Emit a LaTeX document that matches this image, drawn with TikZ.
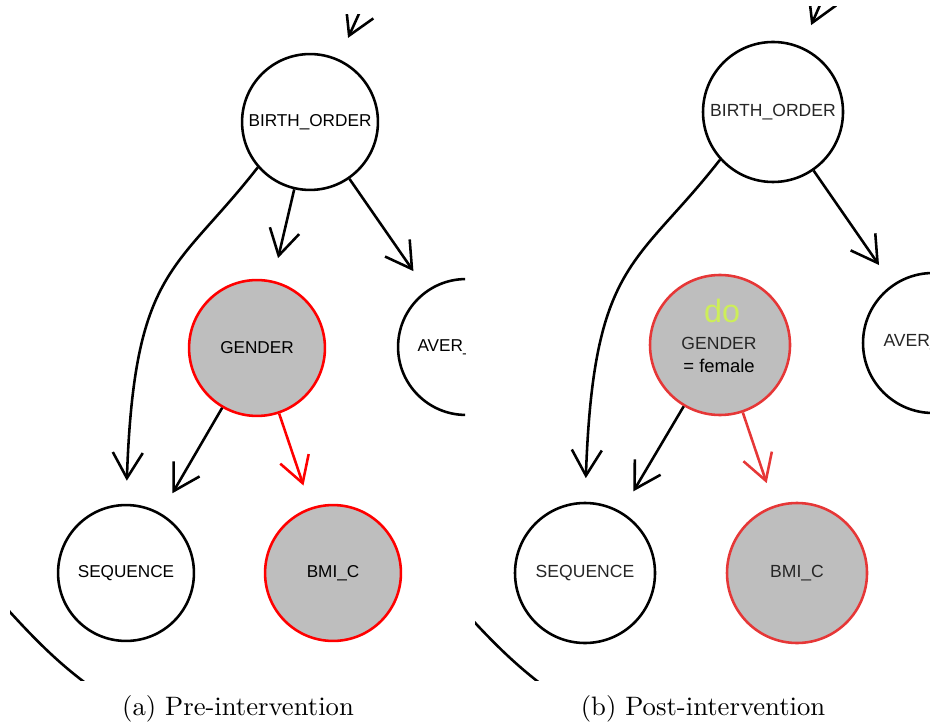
\documentclass[tikz,border=0pt]{standalone}
\usepackage{fontspec}
\usepackage{tikz}
\usetikzlibrary{arrows.meta,positioning}
\newfontfamily\nodefont{Liberation Sans}
\definecolor{nodegray}{RGB}{190,190,190}
\definecolor{redb}{RGB}{230,55,55}
\definecolor{dogreen}{RGB}{205,238,90}

\begin{document}
\begin{tikzpicture}[x=0.39pt,y=0.39pt,
  var/.style={circle,draw,line width=1pt,minimum size=53pt,inner sep=0pt,
    font=\nodefont\fontsize{6.7}{8}\selectfont},
  cond/.style={var,draw=red,fill=nodegray},
  edge/.style={line width=1pt,-{Straight Barb[length=10pt,width=11.7pt]},shorten >=9pt},
  txt/.style={inner sep=0pt,font=\nodefont\fontsize{6.7}{8}\selectfont}]
  \useasboundingbox (0,0) rectangle (930,727);

  % (a) graph before the intervention
  \begin{scope}
    \clip (10,47) rectangle (465,712);
    \node[var] (BOa) at (310,605) {BIRTH\_ORDER};
    \node[cond] (GEa) at (257,379) {GENDER};
    \node[var] (AVa) at (466,380) {};
    \node[txt,anchor=west] (AVta) at (417,380) {AVER\_};
    \node[var] (SEa) at (126,154) {SEQUENCE};
    \node[cond] (BMa) at (333,154) {BMI\_C};
    \coordinate (Pa) at (372,742);
    \draw[edge] (Pa) -- (BOa);
    \draw[edge] (BOa) -- (GEa);
    \draw[edge] (BOa) -- (AVa);
    \draw[edge] (BOa.221) to[out=232,in=88,out distance=52pt,in distance=92pt] (SEa.north);
    \draw[edge] (GEa) -- (SEa);
    \draw[edge,red] (GEa) -- (BMa);
    \draw[line width=1pt] (0,126) .. controls (35,87) and (60,62) .. (95,37);
  \end{scope}

  % (b) graph after do(GENDER = female)
  \begin{scope}[var/.append style={minimum size=54.6pt,text=black!85,
      font=\nodefont\fontsize{6.85}{8}\selectfont},
    cond/.append style={draw=redb},
    edge/.append style={shorten >=9.2pt}]
    \clip (475,47) rectangle (930,720);
    \node[var] (BOb) at (773,615) {BIRTH\_ORDER};
    \node[cond] (GEb) at (720,382) {};
    \node[txt,text=dogreen,font=\nodefont\fontsize{12.6}{14}\selectfont] (DOb) at (722,416) {do};
    \node[txt,text=black!85,font=\nodefont\fontsize{6.85}{8}\selectfont] (GTb) at (719,384) {GENDER};
    \node[txt,font=\nodefont\fontsize{7.2}{9}\selectfont] (FEb) at (719,361) {= female};
    \node[var] (AVb) at (933,384) {};
    \node[txt,anchor=west,text=black!85,font=\nodefont\fontsize{6.85}{8}\selectfont] (AVtb) at (883,385) {AVER\_};
    \node[var] (SEb) at (585,154) {SEQUENCE};
    \node[cond] (BMb) at (797,154) {BMI\_C};
    \coordinate (Pb) at (834,754);
    \draw[edge] (Pb) -- (BOb);
    \draw[edge] (BOb) -- (AVb);
    \draw[edge] (BOb.222) to[out=232,in=88,out distance=53pt,in distance=94pt] (SEb.north);
    \draw[edge] (GEb) -- (SEb);
    \draw[edge,redb] (GEb) -- (BMb);
    \draw[line width=1pt] (456,125) .. controls (492,85) and (517,60) .. (553,34);
  \end{scope}

  \node[anchor=base,font=\fontsize{10.4}{12}\selectfont] (CAPa) at (238,12) {(a)\ Pre-intervention};
  \node[anchor=base,font=\fontsize{10.4}{12}\selectfont] (CAPb) at (703,12) {(b)\ Post-intervention};
\end{tikzpicture}
\end{document}
